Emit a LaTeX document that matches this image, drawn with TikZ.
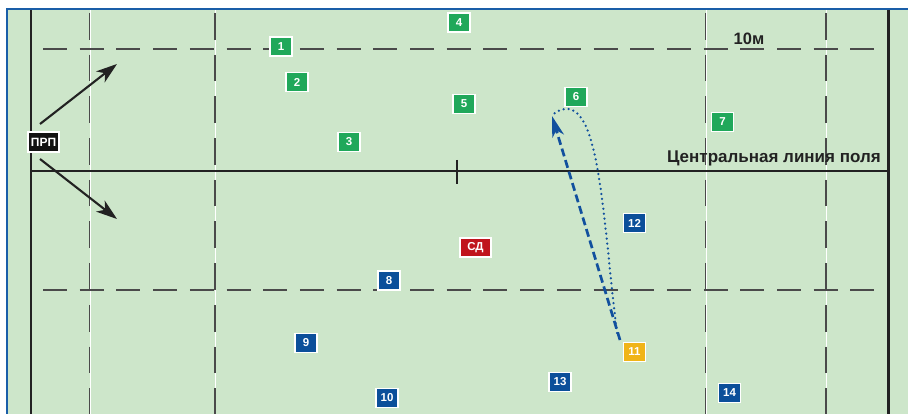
\documentclass[tikz,border=0pt]{standalone}
\usepackage{fontspec}
\setmainfont{Liberation Sans}
\usetikzlibrary{arrows.meta}
\definecolor{fieldc}{HTML}{CDE6CA}
\definecolor{framec}{HTML}{1A5EA8}
\definecolor{gboxc}{HTML}{20A85A}
\definecolor{bboxc}{HTML}{0B4F9A}
\definecolor{yboxc}{HTML}{F0B418}
\definecolor{rboxc}{HTML}{C0141C}
\definecolor{linec}{HTML}{222222}
\definecolor{dashc}{HTML}{4A4A4A}
\definecolor{runc}{HTML}{11509E}
\tikzset{
  box/.style={draw=white, line width=1.1pt, minimum width=22pt, minimum height=19pt,
    inner sep=0pt, text=white, font=\bfseries\fontsize{11.5}{13}\selectfont},
  gbox/.style={box, fill=gboxc},
  bbox/.style={box, fill=bboxc},
  ybox/.style={box, fill=yboxc},
  rbox/.style={box, fill=rboxc, minimum width=31pt},
  kbox/.style={box, fill=black!93, minimum width=31pt, minimum height=20pt,
    font=\bfseries\fontsize{12}{14}\selectfont},
  solidline/.style={draw=linec, line width=2.2pt},
  hdash/.style={draw=dashc, line width=1.4pt, dash pattern=on 24pt off 12.7pt},
  vdash/.style={draw=dashc, line width=1.5pt, dash pattern=on 26.7pt off 15pt, dash phase=38.7pt},
  vwhite/.style={draw=white, line width=1pt},
  fieldtext/.style={text=linec, font=\bfseries\fontsize{17}{19}\selectfont, inner sep=0pt},
  blackarrow/.style={draw=linec, line width=2.1pt, -{Stealth[length=21pt, width=14pt, inset=6pt]}},
  passarrow/.style={draw=runc, line width=2.7pt, dash pattern=on 8pt off 4pt,
    -{Stealth[length=21pt, width=12pt, inset=6pt]}},
  runpath/.style={draw=runc, line width=2.5pt, line cap=round, dash pattern=on 0pt off 5pt}
}
\begin{document}
\begin{tikzpicture}[x=1pt, y=-1pt]
\useasboundingbox (0,0) rectangle (908,414);
% field and frame
\fill[white] (0,0) rectangle (908,414);
\fill[fieldc] (7,9) rectangle (908,414);
\draw[framec, line width=2.4pt] (7,414) -- (7,9) -- (908,9);
% vertical dashed lines
\foreach \xx in {89.5,215,705.5,826}{
  \draw[vwhite] (\xx+0.8,10) -- (\xx+0.8,414);
  \draw[vdash] (\xx,10) -- (\xx,414);
}
% horizontal dashed lines
\draw[hdash] (43,49) -- (876,49);
\draw[hdash] (43,290) -- (876,290);
% solid lines
\draw[solidline] (31,10) -- (31,414);
\draw[solidline] (888.5,10) -- (888.5,414);
\draw[solidline] (31,171) -- (889,171);
\draw[solidline] (457,160) -- (457,184);
% texts
\node[fieldtext, font=\bfseries\fontsize{16.5}{18}\selectfont] (t10m) at (749,39) {10м};
\node[fieldtext, anchor=base east] (tcl) at (881,162.5) {Центральная линия поля};
% players
\node[gbox] (b1) at (281,46.5) {1};
\node[gbox] (b2) at (297,82) {2};
\node[gbox] (b3) at (349,142) {3};
\node[gbox] (b4) at (459,22.5) {4};
\node[gbox] (b5) at (464,104) {5};
\node[gbox] (b6) at (576,97) {6};
\node[gbox] (b7) at (722.5,122) {7};
\node[bbox] (b8) at (389,280.5) {8};
\node[bbox] (b9) at (306,343) {9};
\node[bbox] (b10) at (387,398) {10};
\node[ybox] (b11) at (634.5,352) {11};
\node[bbox] (b12) at (634.5,223) {12};
\node[bbox] (b13) at (560,382) {13};
\node[bbox] (b14) at (729.5,393) {14};
\node[rbox] (sd) at (475.5,247.5) {СД};
\node[kbox] (prp) at (43.5,142) {ПРП};
% referee arrows
\coordinate (ua) at (40,124);
\coordinate (ub) at (117,64);
\coordinate (la) at (40,159);
\coordinate (lb) at (117,219);
\draw[blackarrow] (ua) -- (ub);
\draw[blackarrow] (la) -- (lb);
% pass and run
\coordinate (ps) at (620,340);
\coordinate (pe) at (552,116);
\coordinate (rs) at (617,333);
\coordinate (rt) at (565,109);
\draw[runpath] (rs) .. controls (603,220) and (600,105) .. (rt)
  .. controls (558,110) and (554,113) .. (pe);
\draw[passarrow] (ps) -- (pe);
\end{tikzpicture}
\end{document}
